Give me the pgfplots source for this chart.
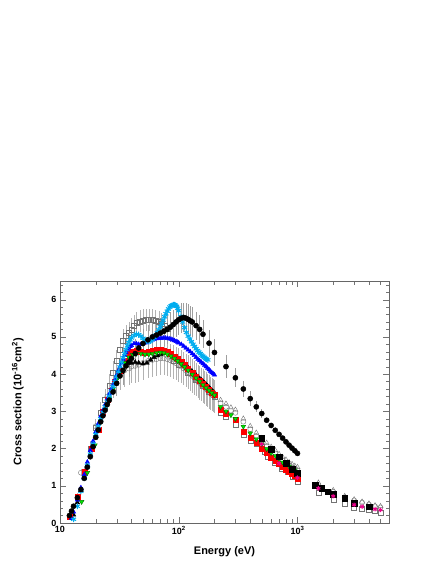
\documentclass[border=0pt]{standalone}
\usepackage{pgfplots}
\pgfplotsset{compat=1.18}
\usepackage{fontspec}
\setmainfont{Liberation Sans}

\begin{document}
\begin{tikzpicture}
\path[use as bounding box] (0,0) rectangle (436pt,564pt);
\begin{axis}[
  at={(60pt,41pt)}, anchor=south west,
  scale only axis, width=329pt, height=242pt,
  xmode=log, xmin=10, xmax=5900, ymin=0, ymax=6.5,
  xtick={10,100,1000},
  xticklabels={\textbf{10},\textbf{10\textsuperscript{2}},\textbf{10\textsuperscript{3}}},
  minor xtick={20,30,40,50,60,70,80,90,200,300,400,500,600,700,800,900,2000,3000,4000,5000},
  ytick={0,1,2,3,4,5,6},
  yticklabels={\textbf{0},\textbf{1},\textbf{2},\textbf{3},\textbf{4},\textbf{5},\textbf{6}},
  minor ytick={0.2,0.4,...,6.4},
  xtick pos=both, ytick pos=both,
  xticklabel pos=lower, yticklabel pos=left,
  major tick length=6pt, minor tick length=3.5pt,
  tick style={black!55},
  axis line style={black!60},
  tick label style={font=\fontsize{9}{10}\selectfont\bfseries},
  xlabel={Energy (eV)},
  ylabel={Cross section (10\textsuperscript{-16}cm\textsuperscript{2})},
  label style={font=\fontsize{11}{13}\selectfont\bfseries},
  xlabel style={at={(axis description cs:0.5,-0.12)}, anchor=center},
  ylabel style={at={(axis description cs:-0.128,0.5)}, anchor=center},
  clip=false,
]
% gray error bars (open circles group)
\addplot[only marks, mark=o, mark size=2.5pt, mark options={black!55},
  error bars/.cd, y dir=both, y explicit, error mark=none,
  error bar style={black!30, line width=0.6pt}] coordinates {
(15,1.35)+-(0,0.1) (20,2.6)+-(0,0.2) (25,3.4)+-(0,0.3) (28,3.7)+-(0,0.35) (30,3.9)+-(0,0.4)
(32,4.0)+-(0,0.42) (35,4.1)+-(0,0.45) (38,4.15)+-(0,0.45) (40,4.2)+-(0,0.45) (43,4.22)+-(0,0.45)
(46,4.25)+-(0,0.45) (50,4.3)+-(0,0.45) (55,4.35)+-(0,0.45) (60,4.38)+-(0,0.45) (65,4.4)+-(0,0.45)
(70,4.42)+-(0,0.45) (75,4.42)+-(0,0.45) (80,4.4)+-(0,0.45) (85,4.37)+-(0,0.45) (90,4.33)+-(0,0.45)
(95,4.29)+-(0,0.45) (100,4.25)+-(0,0.45) (105,4.2)+-(0,0.45) (110,4.15)+-(0,0.45) (115,4.1)+-(0,0.45)
(120,4.05)+-(0,0.45) (125,4.0)+-(0,0.45) (130,3.95)+-(0,0.45) (135,3.9)+-(0,0.45) (140,3.85)+-(0,0.45)
(145,3.8)+-(0,0.45) (150,3.76)+-(0,0.45) (155,3.72)+-(0,0.45) (160,3.68)+-(0,0.45) (165,3.64)+-(0,0.45)
(170,3.6)+-(0,0.45) (175,3.56)+-(0,0.45) (180,3.52)+-(0,0.45) (185,3.48)+-(0,0.45) (190,3.45)+-(0,0.45)
(195,3.42)+-(0,0.45) (200,3.4)+-(0,0.45)
(225,3.22)+-(0,0) (250,3.12)+-(0,0) (275,3.02)+-(0,0) (300,2.96)+-(0,0) (350,2.72)+-(0,0)
(400,2.52)+-(0,0) (450,2.34)+-(0,0) (500,2.2)+-(0,0) (550,2.07)+-(0,0) (600,1.96)+-(0,0)
(650,1.87)+-(0,0) (700,1.77)+-(0,0) (750,1.69)+-(0,0) (800,1.62)+-(0,0) (850,1.55)+-(0,0)
(900,1.5)+-(0,0) (950,1.45)+-(0,0) (1000,1.42)+-(0,0)
(1500,1.02)+-(0,0) (2000,0.84)+-(0,0) (2500,0.69)+-(0,0) (3000,0.61)+-(0,0) (3500,0.55)+-(0,0)
(4000,0.5)+-(0,0) (4500,0.45)+-(0,0) (5000,0.42)+-(0,0)
};
% open squares with error bars
\addplot[only marks, mark=square, mark size=2.5pt, mark options={black!55},
  error bars/.cd, y dir=both, y explicit, error mark=none,
  error bar style={black!30, line width=0.6pt}] coordinates {
(14,0.7)+-(0,0.1) (16,1.35)+-(0,0.15) (18,2.0)+-(0,0.2) (20,2.55)+-(0,0.25) (22,2.95)+-(0,0.3)
(24,3.3)+-(0,0.3) (26,3.7)+-(0,0.3) (28,4.05)+-(0,0.3) (30,4.35)+-(0,0.3) (32,4.65)+-(0,0.3)
(34,4.9)+-(0,0.3) (36,5.02)+-(0,0.3) (38,5.1)+-(0,0.3) (40,5.2)+-(0,0.3) (42,5.3)+-(0,0.3)
(44,5.38)+-(0,0.3) (47,5.42)+-(0,0.3) (50,5.44)+-(0,0.3) (53,5.45)+-(0,0.3) (56,5.46)+-(0,0.3)
(60,5.45)+-(0,0.3) (64,5.43)+-(0,0.3) (68,5.4)+-(0,0.3) (72,5.35)+-(0,0.3) (76,5.3)+-(0,0.3)
(80,5.22)+-(0,0.3)
(90,4.35)+-(0,0.3) (100,4.25)+-(0,0.3) (120,4.05)+-(0,0.3) (140,3.85)+-(0,0.3) (160,3.68)+-(0,0.3)
(180,3.52)+-(0,0.3) (200,3.38)+-(0,0.3)
(225,2.95)+-(0,0) (250,2.85)+-(0,0) (300,2.65)+-(0,0) (350,2.38)+-(0,0) (400,2.22)+-(0,0)
(450,2.12)+-(0,0) (500,2.05)+-(0,0) (530,1.91)+-(0,0) (560,1.78)+-(0,0) (640,1.62)+-(0,0)
(740,1.47)+-(0,0) (830,1.38)+-(0,0) (915,1.24)+-(0,0) (1000,1.11)+-(0,0)
(1500,0.81)+-(0,0) (2000,0.62)+-(0,0) (2500,0.53)+-(0,0) (3000,0.42)+-(0,0) (3500,0.39)+-(0,0)
(4000,0.35)+-(0,0) (4500,0.33)+-(0,0) (5000,0.28)+-(0,0)
};
% black circle error bars
\addplot[only marks, mark=none,
  error bars/.cd, y dir=both, y explicit, error mark=none,
  error bar style={black!38, line width=0.6pt}] coordinates {
(30,3.75)+-(0,0.35) (34,4.1)+-(0,0.4) (38,4.32)+-(0,0.4) (43,4.55)+-(0,0.4) (50,4.82)+-(0,0.4)
(55,4.92)+-(0,0.4) (60,5.0)+-(0,0.4) (65,5.05)+-(0,0.4) (70,5.1)+-(0,0.4) (75,5.15)+-(0,0.4)
(80,5.2)+-(0,0.4) (85,5.26)+-(0,0.4) (90,5.33)+-(0,0.4) (95,5.4)+-(0,0.4) (100,5.46)+-(0,0.4)
(105,5.5)+-(0,0.4) (110,5.52)+-(0,0.4) (115,5.5)+-(0,0.4) (120,5.47)+-(0,0.4) (125,5.43)+-(0,0.4)
(130,5.4)+-(0,0.4) (140,5.3)+-(0,0.38) (150,5.2)+-(0,0.38) (160,5.07)+-(0,0.38) (180,4.83)+-(0,0.36)
(200,4.58)+-(0,0.35) (250,4.2)+-(0,0.3) (300,3.9)+-(0,0.25) (350,3.6)+-(0,0.22) (400,3.34)+-(0,0.2)
(450,3.12)+-(0,0.15) (500,2.94)+-(0,0.12)
};
% open triangles
\addplot[only marks, mark=triangle, mark size=2.9pt, mark options={black!55}] coordinates {
(200,3.5) (225,3.3) (250,3.2) (275,3.1) (300,3.04) (350,2.8) (400,2.6) (450,2.42) (500,2.28)
(550,2.15) (600,2.04) (650,1.95) (700,1.85) (750,1.77) (800,1.7) (850,1.63) (900,1.58) (950,1.53)
(1000,1.5) (1500,1.08) (2000,0.88) (2500,0.72) (3000,0.63) (3500,0.57) (4000,0.52) (4500,0.47) (5000,0.45)
};
% black filled triangles
\addplot[only marks, mark=triangle*, mark size=2.7pt, black] coordinates {
(13,0.22) (14,0.55) (15,0.88) (16,1.22) (17,1.55) (18,1.85) (19,2.12) (20,2.37) (21,2.58) (22,2.78)
(23,2.95) (24,3.1) (25,3.25) (26,3.38) (27,3.5) (28,3.6) (30,3.8) (33,4.05) (36,4.22) (40,4.3)
(43,4.32) (46,4.3) (50,4.28) (54,4.3) (58,4.38) (62,4.45) (66,4.5) (70,4.53) (75,4.56) (80,4.56)
(85,4.53) (90,4.48) (95,4.43) (100,4.38) (105,4.32) (110,4.27) (115,4.22) (120,4.17) (125,4.12)
(130,4.07) (135,4.02) (140,3.97) (145,3.92) (150,3.88) (155,3.84) (160,3.8) (165,3.76) (170,3.72)
(175,3.68) (180,3.64) (185,3.6) (190,3.56) (195,3.52) (200,3.48)
};
% red squares
\addplot[only marks, mark=square*, mark size=2.5pt, red] coordinates {
(12,0.17) (14.2,0.71) (16.2,1.38) (18.5,2.0) (21,2.5) (23,3.0) (25,3.3) (27,3.55) (29,3.8) (32,4.1)
(35,4.35) (38,4.55) (41,4.6) (44,4.62) (48,4.6) (52,4.58) (56,4.6) (60,4.63) (65,4.65) (70,4.66)
(75,4.64) (80,4.6) (86,4.55) (92,4.48) (98,4.4) (105,4.32) (112,4.24) (120,4.15) (130,4.03)
(140,3.93) (150,3.83) (160,3.74) (170,3.65) (180,3.57) (190,3.5) (200,3.44) (225,3.05) (250,2.93)
(300,2.77) (350,2.46) (400,2.3) (450,2.15) (500,2.0) (550,1.88) (600,1.76) (650,1.68) (700,1.59)
(750,1.5) (800,1.43) (850,1.37) (900,1.32) (950,1.26) (1000,1.2)
};
% green down triangles
\addplot[only marks, mark=triangle*, mark size=2.7pt,
  mark options={rotate=180, fill=green!90!black, draw=green!45!black}] coordinates {
(15.2,0.57) (17,1.35) (19.7,2.09) (22,2.7) (24,3.05) (26,3.35) (28,3.6) (30,3.85) (32,4.05) (35,4.3)
(38,4.45) (41,4.52) (44,4.55) (48,4.55) (52,4.53) (56,4.53) (60,4.55) (65,4.57) (70,4.58) (75,4.57)
(80,4.53) (86,4.48) (92,4.42) (98,4.35) (105,4.27) (112,4.19) (120,4.1) (130,3.99) (140,3.89)
(150,3.8) (160,3.71) (170,3.63) (180,3.56) (190,3.49) (200,3.43) (225,3.12) (250,3.0) (275,2.9)
(300,2.8) (350,2.59) (400,2.41) (450,2.25) (500,2.12) (550,1.99) (600,1.88) (650,1.81) (700,1.72)
(750,1.63) (800,1.58) (850,1.52) (900,1.45) (950,1.42) (1000,1.38)
};
% blue triangles
\addplot[only marks, mark=triangle*, mark size=2.5pt, blue] coordinates {
(12.5,0.12) (13,0.3) (14,0.62) (15,0.95) (16,1.3) (17,1.64) (18,1.95) (19,2.2) (20,2.45) (21,2.67)
(22,2.87) (23,3.03) (24,3.18) (25,3.33) (26,3.47) (27,3.6) (28,3.72) (29,3.85) (30,3.97) (31,4.09)
(32,4.2) (33,4.3) (34,4.4) (35,4.5) (36,4.58) (37,4.65) (38,4.7) (39,4.74) (40,4.77) (42,4.82)
(44,4.82) (46,4.8) (48,4.8) (50,4.82) (52,4.84) (54,4.86) (56,4.88) (58,4.9) (60,4.92) (62,4.93)
(65,4.95) (68,4.96) (71,4.96) (74,4.97) (77,4.97) (80,4.96) (83,4.95) (86,4.94) (89,4.92) (92,4.9)
(95,4.88) (98,4.86) (100,4.84) (105,4.8) (110,4.75) (115,4.7) (120,4.65) (125,4.6) (130,4.55)
(135,4.5) (140,4.45) (145,4.4) (150,4.36) (155,4.32) (160,4.28) (165,4.24) (170,4.2) (175,4.16)
(180,4.12) (185,4.08) (190,4.04) (195,4.01) (200,3.98)
};
% cyan stars
\addplot[only marks, mark=asterisk, mark size=2.9pt, mark options={cyan, line width=1pt}] coordinates {
(13,0.1) (14,0.45) (15,0.85) (16,1.2) (17,1.55) (18,1.85) (19,2.12) (20,2.38) (21,2.6) (22,2.8)
(23,2.97) (24,3.12) (25,3.27) (26,3.41) (27,3.54) (28,3.67) (29,3.8) (30,3.93) (31,4.06) (32,4.19)
(33,4.32) (34,4.44) (35,4.55) (36,4.66) (37,4.76) (38,4.85) (39,4.92) (40,4.97) (42,5.04) (44,5.07)
(46,5.06) (48,5.02) (50,4.96) (52,4.91) (54,4.88) (56,4.87) (58,4.89) (60,4.93) (62,4.98) (64,5.04)
(66,5.11) (68,5.19) (70,5.27) (72,5.36) (74,5.45) (76,5.54) (78,5.62) (80,5.69) (82,5.75) (84,5.8)
(86,5.83) (88,5.85) (90,5.86) (92,5.86) (94,5.85) (96,5.82) (98,5.77) (100,5.7) (104,5.55) (108,5.4)
(112,5.25) (116,5.12) (120,5.02) (124,4.94) (128,4.87) (132,4.8) (136,4.74) (140,4.68) (144,4.63)
(148,4.59) (152,4.55) (156,4.51) (160,4.48) (164,4.45) (168,4.42) (172,4.4) (176,4.38)
};
% black squares
\addplot[only marks, mark=square*, mark size=2.9pt, black] coordinates {
(500,2.27) (600,1.98) (700,1.78) (800,1.6) (900,1.44) (1000,1.33) (1400,1.02) (1600,0.93)
(1800,0.84) (2000,0.78) (2500,0.66) (3000,0.54) (4000,0.44)
};
% magenta stars
\addplot[only marks, mark=asterisk, mark size=2.2pt, mark options={magenta, line width=1pt}] coordinates {
(500,2.12) (700,1.6) (1000,1.22) (1500,0.93) (2000,0.72) (3000,0.49) (3500,0.44) (4500,0.37) (5000,0.35)
};
% black circles
\addplot[only marks, mark=*, mark size=2.6pt, black] coordinates {
(12,0.2) (12.5,0.32) (13,0.45) (14,0.68) (15,0.9) (16,1.2) (17,1.5) (18,1.78) (19,2.05) (20,2.3)
(21,2.5) (22,2.72) (23,2.88) (24,3.03) (25,3.18) (26,3.3) (28,3.52) (30,3.75) (32,3.95) (34,4.1)
(36,4.22) (38,4.32) (40,4.42) (43,4.55) (46,4.7) (50,4.82) (55,4.92) (60,5.0) (65,5.05) (70,5.1)
(75,5.15) (80,5.2) (85,5.26) (90,5.33) (95,5.4) (100,5.46) (105,5.5) (110,5.52) (115,5.5)
(120,5.47) (125,5.43) (130,5.4) (140,5.3) (150,5.2) (160,5.07) (180,4.83) (200,4.58) (250,4.2)
(300,3.9) (350,3.6) (400,3.34) (450,3.12) (500,2.94) (550,2.76) (600,2.62) (650,2.49) (700,2.38)
(750,2.28) (800,2.18) (850,2.09) (900,2.01) (950,1.94) (1000,1.87)
};
\end{axis}
\end{tikzpicture}
\end{document}
